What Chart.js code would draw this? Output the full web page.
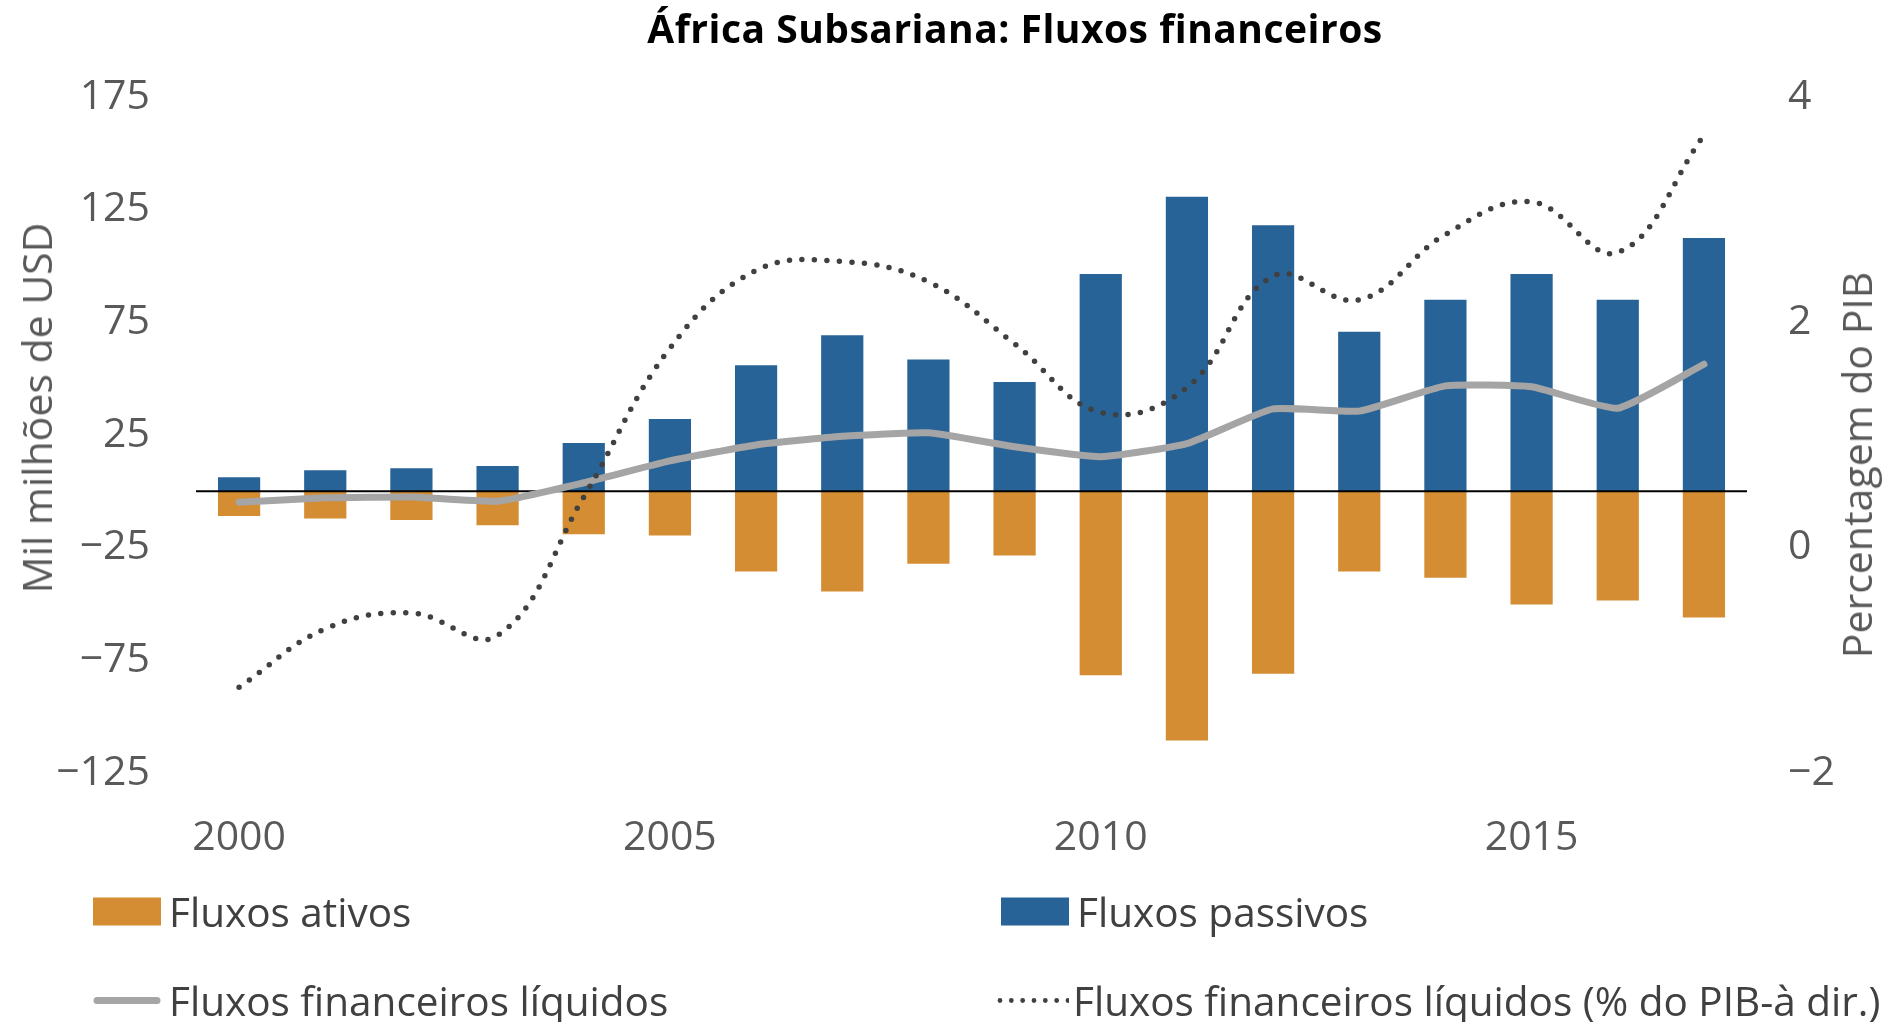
<!DOCTYPE html>
<html>
<head>
<meta charset="utf-8">
<script src="https://cdn.jsdelivr.net/npm/chart.js@4.4.1/dist/chart.umd.min.js"></script>
<style>
  html, body { margin: 0; padding: 0; background: #ffffff; }
  #wrap { position: relative; width: 1893px; height: 1022px; overflow: hidden; font-family: "Open Sans", sans-serif; }
  #chart { position: absolute; left: 0; top: 0; }
  .title { position: absolute; left: 1015px; top: 27px; transform: translate(-50%, -50%); font-weight: 700; font-size: 39px; color: #000; white-space: nowrap; letter-spacing: 0.5px; }
  .atitle { position: absolute; transform: translate(-50%, -50%) rotate(-90deg); font-size: 41px; color: #595959; white-space: nowrap; }
  .leg { position: absolute; display: flex; align-items: center; font-size: 40.5px; color: #404040; white-space: nowrap; transform: translateY(-50%); }
  .leg .mk { width: 68px; height: 28px; margin-right: 8px; display: flex; align-items: center; }
  .leg svg { display: block; }
</style>
</head>
<body>
<div id="wrap">
  <canvas id="chart" width="1893" height="1022"></canvas>
  <div class="title" id="title"></div>
  <div class="atitle" id="ytitleL" style="left:36px; top:408px;"></div>
  <div class="atitle" id="ytitleR" style="left:1856px; top:465px;"></div>
  <div id="legend"></div>
</div>
<script>
// ---- Data ----
const chartTitle = "África Subsariana: Fluxos financeiros";
const leftAxisTitle = "Mil milhões de USD";
const rightAxisTitle = "Percentagem do PIB";
const years = ["2000","2001","2002","2003","2004","2005","2006","2007","2008","2009",
               "2010","2011","2012","2013","2014","2015","2016","2017"];
const shownYearLabels = ["2000","2005","2010","2015"];
const seriesNames = ["Fluxos ativos", "Fluxos passivos", "Fluxos financeiros líquidos", "Fluxos financeiros líquidos (% do PIB-à dir.)"];
const fluxosAtivos = [-11.0,-12.1,-12.7,-15.0,-19.0,-19.6,-35.6,-44.4,-32.1,-28.5,
                      -81.6,-110.6,-81.0,-35.6,-38.3,-50.2,-48.5,-56.0];
const fluxosPassivos = [6.2,9.4,10.2,11.2,21.4,32.1,56.0,69.3,58.5,48.5,
                        96.4,130.7,118.1,70.8,85.0,96.4,85.0,112.4];
const fluxosLiquidos = [-4.8,-2.9,-2.5,-4.4,3.8,13.5,20.6,24.4,26.0,19.8,
                        15.4,21.2,36.6,35.6,46.8,46.4,36.9,56.4];
const fluxosLiquidosPIB = [-1.24,-0.72,-0.58,-0.78,0.45,1.77,2.46,2.54,2.36,1.81,
                           1.20,1.42,2.41,2.20,2.78,3.07,2.62,3.66];
const leftMin = -125, leftMax = 175, leftStep = 50;
const rightMin = -2, rightMax = 4, rightStep = 2;

// ---- Styles ----
const cOrange = "#D48D32";
const cBlue = "#286398";
const cGray = "#A5A5A5";
const cDot = "#404040";
const tickColor = "#595959";
const tickFont = { family: "Open Sans", size: 41 };

function fmt(v) { return v < 0 ? "\u2212" + Math.abs(v) : String(v); }

const zeroLine = {
  id: "zeroLine",
  afterDatasetDraw(chart, args) {
    if (args.index !== 1) return;
    const y = chart.scales.y.getPixelForValue(0);
    const ctx = chart.ctx;
    ctx.save();
    ctx.strokeStyle = "#000";
    ctx.lineWidth = 2;
    ctx.beginPath();
    ctx.moveTo(chart.chartArea.left, y);
    ctx.lineTo(chart.chartArea.right, y);
    ctx.stroke();
    ctx.restore();
  }
};

new Chart(document.getElementById("chart"), {
  type: "bar",
  data: {
    labels: years,
    datasets: [
      { type: "bar", label: seriesNames[0], data: fluxosAtivos, backgroundColor: cOrange, yAxisID: "y",
        grouped: false, barPercentage: 0.49, categoryPercentage: 1.0, order: 4 },
      { type: "bar", label: seriesNames[1], data: fluxosPassivos, backgroundColor: cBlue, yAxisID: "y",
        grouped: false, barPercentage: 0.49, categoryPercentage: 1.0, order: 3 },
      { type: "line", label: seriesNames[2], data: fluxosLiquidos, borderColor: cGray, borderWidth: 7,
        pointRadius: 0, tension: 0.15, yAxisID: "y", order: 2, borderCapStyle: "round", borderJoinStyle: "round" },
      { type: "line", label: seriesNames[3], data: fluxosLiquidosPIB, borderColor: cDot, borderWidth: 5.5,
        borderDash: [0, 12.5], borderCapStyle: "round", pointRadius: 0, tension: 0.4, yAxisID: "y1", order: 1 }
    ]
  },
  options: {
    responsive: false,
    devicePixelRatio: 1,
    animation: false,
    layout: { padding: { top: 97, left: 0, right: 0, bottom: 0 } },
    plugins: { legend: { display: false }, tooltip: { enabled: false }, title: { display: false } },
    scales: {
      x: {
        type: "category",
        offset: true,
        grid: { display: false },
        border: { display: false },
        ticks: {
          autoSkip: false, maxRotation: 0, minRotation: 0, padding: 33,
          color: tickColor, font: tickFont,
          callback: function(v, i) { return shownYearLabels.includes(years[i]) ? years[i] : ""; }
        },
        afterFit: function(s) { s.height = 249; }
      },
      y: {
        position: "left", min: leftMin, max: leftMax,
        grid: { display: false }, border: { display: false },
        ticks: { stepSize: leftStep, padding: 38, color: tickColor, font: tickFont, callback: fmt },
        afterFit: function(s) { s.width = 196; }
      },
      y1: {
        position: "right", min: rightMin, max: rightMax,
        grid: { display: false }, border: { display: false },
        ticks: { stepSize: rightStep, padding: 33, color: tickColor, font: tickFont, callback: fmt },
        afterFit: function(s) { s.width = 146; }
      }
    }
  },
  plugins: [zeroLine]
});

// ---- Text overlays ----
document.getElementById("title").textContent = chartTitle;
document.getElementById("ytitleL").textContent = leftAxisTitle;
document.getElementById("ytitleR").textContent = rightAxisTitle;

const legendItems = [
  { name: seriesNames[0], kind: "box", color: cOrange, left: 93, top: 911 },
  { name: seriesNames[1], kind: "box", color: cBlue, left: 1001, top: 911 },
  { name: seriesNames[2], kind: "line", color: cGray, left: 93, top: 1000 },
  { name: seriesNames[3], kind: "dot", color: cDot, left: 997, top: 1000 }
];
const legend = document.getElementById("legend");
legendItems.forEach(function(it) {
  const d = document.createElement("div");
  d.className = "leg";
  d.style.left = it.left + "px";
  d.style.top = it.top + "px";
  let mk;
  if (it.kind === "box") {
    mk = '<div class="mk"><div style="width:68px;height:28px;background:' + it.color + '"></div></div>';
  } else if (it.kind === "line") {
    mk = '<div class="mk"><svg width="68" height="28"><line x1="4" y1="14" x2="64" y2="14" stroke="' + it.color + '" stroke-width="7" stroke-linecap="round"/></svg></div>';
  } else {
    mk = '<div class="mk" style="width:72px;margin-right:4px"><svg width="72" height="28"><line x1="3" y1="14" x2="71" y2="14" stroke="' + it.color + '" stroke-width="4.8" stroke-linecap="round" stroke-dasharray="0 11.33"/></svg></div>';
  }
  d.innerHTML = mk + '<span></span>';
  d.querySelector("span").textContent = it.name;
  legend.appendChild(d);
});
</script>
</body>
</html>
